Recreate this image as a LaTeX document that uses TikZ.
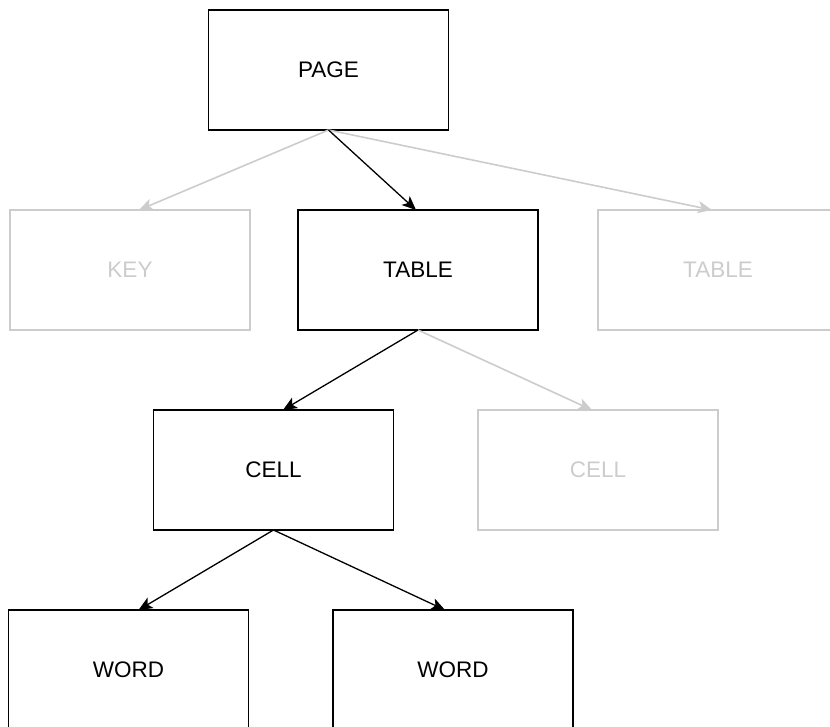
\documentclass[tikz,border=0pt]{standalone}
\usepackage{fontspec}
\setmainfont{Liberation Sans}
\usepackage{tikz}
\usetikzlibrary{arrows.meta,positioning}
\definecolor{fadegray}{HTML}{CCCCCC}

\begin{document}
\begin{tikzpicture}
[x=1pt, y=1pt, font=\fontsize{22.5}{26}\selectfont,
>={Stealth[length=14pt, width=12pt, inset=3.5pt]},
% STYLES
% The level style is used to draw the boxes that are kept
level/.style={rectangle, draw, line width=1.3pt, inner sep=0pt, outer sep=0pt, minimum width=240pt, minimum height=120pt},
% The faded style is used for the boxes that are left out
faded/.style={level, draw=fadegray, text=fadegray},
% The link style is used for the arrows
link/.style={->, line width=1.3pt},
fadelink/.style={->, line width=1.6pt, fadegray}]

\useasboundingbox (0,0) rectangle (830,-727);

% Draw boxes
\node [level] (page) at (328.5,-70) {PAGE};
\node [level, below=80pt of page, xshift=89.5pt] (table) {TABLE};
\node [faded, left=48pt of table] (key) {KEY};
\node [faded, right=60pt of table] (table2) {TABLE};
\node [level, below=80pt of table, xshift=-144.5pt] (cell) {CELL};
\node [faded, right=84.5pt of cell] (cell2) {CELL};
\node [level, below=80pt of cell, xshift=-145pt] (word) {WORD};
\node [level, right=84.5pt of word] (word2) {WORD};

% Draw the links between boxes
\path[fadelink]
(page.south) edge ([xshift=9pt]key.north)
(page.south) edge ([xshift=-6pt]table2.north)
(table.south) edge ([xshift=-6pt]cell2.north);
\path[link]
(page.south) edge ([xshift=-2pt]table.north)
(table.south) edge ([xshift=9.5pt]cell.north)
(cell.south) edge ([xshift=10pt]word.north)
(cell.south) edge ([xshift=-8pt]word2.north);

\end{tikzpicture}
\end{document}
